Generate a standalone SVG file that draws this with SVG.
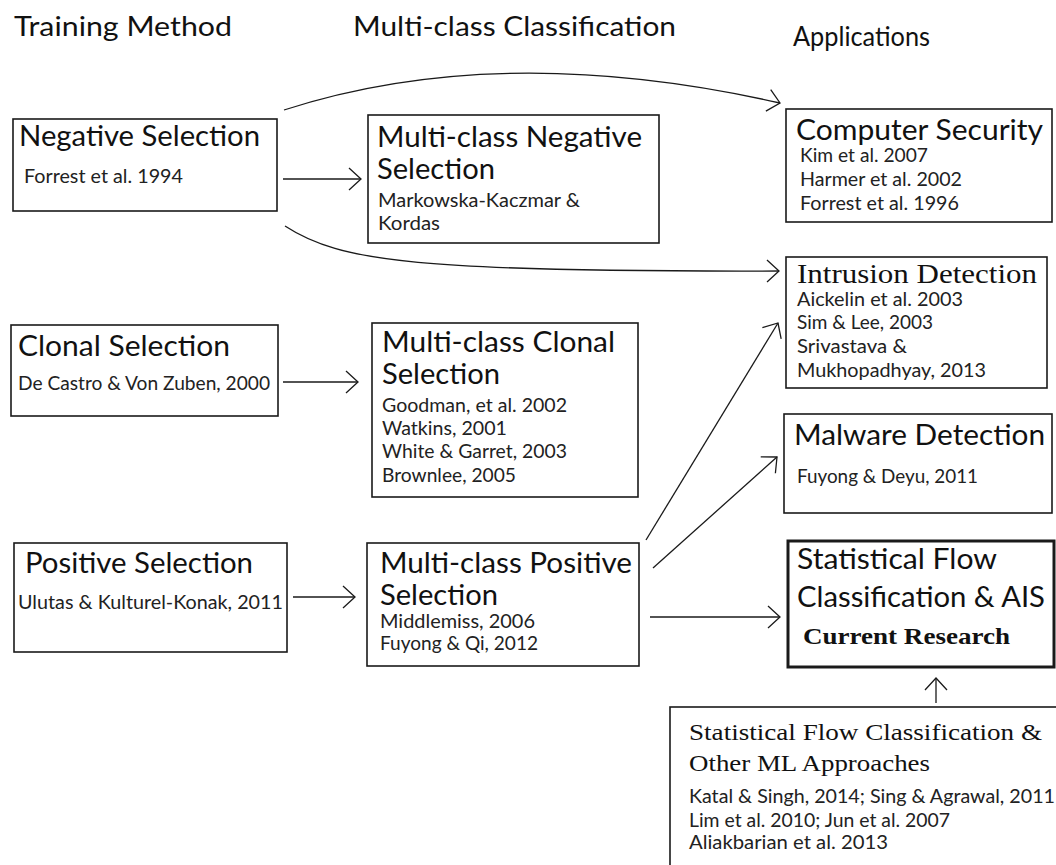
<svg xmlns="http://www.w3.org/2000/svg" width="1056" height="865" viewBox="0 0 1056 865">
<style>
.bg{fill:#fff}
.box{fill:#fff;stroke:#1a1a1a;stroke-width:1.6}
.thick{stroke-width:3}
.h{font-family:Lato,"Open Sans","Liberation Sans",sans-serif;font-size:27px;fill:#111}
.t{font-family:Lato,"Open Sans","Liberation Sans",sans-serif;font-size:28px;fill:#111}
.ts{font-family:"Liberation Serif","DejaVu Serif",serif;font-size:27px;fill:#111}
.tb{font-family:"Liberation Serif","DejaVu Serif",serif;font-size:24px;font-weight:bold;fill:#111}
.tsm{font-family:"Liberation Serif","DejaVu Serif",serif;font-size:24px;fill:#111}
.s{font-family:Lato,"Open Sans","Liberation Sans",sans-serif;font-size:18.5px;fill:#222}
.c{fill:none;stroke:#1a1a1a;stroke-width:1.3}
</style>
<defs>
<marker id="ah" markerUnits="userSpaceOnUse" markerWidth="16" markerHeight="26" refX="13" refY="12" orient="auto">
<path d="M1,1 L13,12 L1,23" fill="none" stroke="#1a1a1a" stroke-width="1.3"/>
</marker>
</defs>
<rect class="bg" x="0" y="0" width="1056" height="865"/>
<g id="headers">
<text class="h" x="14" y="36" textLength="218" lengthAdjust="spacingAndGlyphs">Training Method</text>
<text class="h" x="353" y="36" textLength="323" lengthAdjust="spacingAndGlyphs">Multi-class Classification</text>
<text class="h" x="793" y="46" textLength="137" lengthAdjust="spacingAndGlyphs">Applications</text>
</g>
<g id="connectors">
<path class="c" marker-end="url(#ah)" d="M283,179 L361,179"/>
<path class="c" marker-end="url(#ah)" d="M284,110 Q500,40 780,103"/>
<path class="c" marker-end="url(#ah)" d="M285,226 C340,262 420,272 779,271"/>
<path class="c" marker-end="url(#ah)" d="M283,382 L358,382"/>
<path class="c" marker-end="url(#ah)" d="M293,597 L355,597"/>
<path class="c" marker-end="url(#ah)" d="M646,540 L778,323"/>
<path class="c" marker-end="url(#ah)" d="M653,568 L777,457"/>
<path class="c" marker-end="url(#ah)" d="M650,617 L780,617"/>
<path class="c" marker-end="url(#ah)" d="M936,703 L936,678"/>
</g>
<g id="negative-selection">
<rect class="box" x="13" y="119" width="264" height="92"/>
<text class="t" x="19" y="146" textLength="241" lengthAdjust="spacingAndGlyphs">Negative Selection</text>
<text class="s" x="24" y="183" textLength="159" lengthAdjust="spacingAndGlyphs">Forrest et al. 1994</text>
</g>
<g id="multiclass-negative">
<rect class="box" x="368" y="115" width="291" height="128"/>
<text class="t" x="377" y="147" textLength="265" lengthAdjust="spacingAndGlyphs">Multi-class Negative</text>
<text class="t" x="377" y="179" textLength="118" lengthAdjust="spacingAndGlyphs">Selection</text>
<text class="s" x="378" y="207" textLength="202" lengthAdjust="spacingAndGlyphs">Markowska-Kaczmar &amp;</text>
<text class="s" x="378" y="230" textLength="62" lengthAdjust="spacingAndGlyphs">Kordas</text>
</g>
<g id="computer-security">
<rect class="box" x="786" y="109" width="266" height="113"/>
<text class="t" x="796" y="140" textLength="247" lengthAdjust="spacingAndGlyphs">Computer Security</text>
<text class="s" x="800" y="162" textLength="128" lengthAdjust="spacingAndGlyphs">Kim et al. 2007</text>
<text class="s" x="800" y="186" textLength="162" lengthAdjust="spacingAndGlyphs">Harmer et al. 2002</text>
<text class="s" x="800" y="210" textLength="159" lengthAdjust="spacingAndGlyphs">Forrest et al. 1996</text>
</g>
<g id="intrusion-detection">
<rect class="box" x="786" y="257" width="261" height="131"/>
<text class="ts" x="797" y="283" textLength="240" lengthAdjust="spacingAndGlyphs">Intrusion Detection</text>
<text class="s" x="797" y="306" textLength="166" lengthAdjust="spacingAndGlyphs">Aickelin et al. 2003</text>
<text class="s" x="797" y="329" textLength="136" lengthAdjust="spacingAndGlyphs">Sim &amp; Lee, 2003</text>
<text class="s" x="797" y="353" textLength="110" lengthAdjust="spacingAndGlyphs">Srivastava &amp;</text>
<text class="s" x="797" y="377" textLength="189" lengthAdjust="spacingAndGlyphs">Mukhopadhyay, 2013</text>
</g>
<g id="clonal-selection">
<rect class="box" x="11" y="325" width="267" height="91"/>
<text class="t" x="18" y="356" textLength="212" lengthAdjust="spacingAndGlyphs">Clonal Selection</text>
<text class="s" x="18" y="390" textLength="252" lengthAdjust="spacingAndGlyphs">De Castro &amp; Von Zuben, 2000</text>
</g>
<g id="multiclass-clonal">
<rect class="box" x="372" y="323" width="266" height="174"/>
<text class="t" x="382" y="352" textLength="233" lengthAdjust="spacingAndGlyphs">Multi-class Clonal</text>
<text class="t" x="382" y="384" textLength="118" lengthAdjust="spacingAndGlyphs">Selection</text>
<text class="s" x="382" y="412" textLength="185" lengthAdjust="spacingAndGlyphs">Goodman, et al. 2002</text>
<text class="s" x="382" y="435" textLength="125" lengthAdjust="spacingAndGlyphs">Watkins, 2001</text>
<text class="s" x="382" y="458" textLength="185" lengthAdjust="spacingAndGlyphs">White &amp; Garret, 2003</text>
<text class="s" x="382" y="482" textLength="134" lengthAdjust="spacingAndGlyphs">Brownlee, 2005</text>
</g>
<g id="malware-detection">
<rect class="box" x="784" y="414" width="268" height="99"/>
<text class="t" x="794" y="445" textLength="251" lengthAdjust="spacingAndGlyphs">Malware Detection</text>
<text class="s" x="797" y="483" textLength="181" lengthAdjust="spacingAndGlyphs">Fuyong &amp; Deyu, 2011</text>
</g>
<g id="positive-selection">
<rect class="box" x="14" y="543" width="273" height="109"/>
<text class="t" x="25" y="573" textLength="228" lengthAdjust="spacingAndGlyphs">Positive Selection</text>
<text class="s" x="18" y="609" textLength="265" lengthAdjust="spacingAndGlyphs">Ulutas &amp; Kulturel-Konak, 2011</text>
</g>
<g id="multiclass-positive">
<rect class="box" x="367" y="543" width="272" height="123"/>
<text class="t" x="380" y="573" textLength="252" lengthAdjust="spacingAndGlyphs">Multi-class Positive</text>
<text class="t" x="380" y="605" textLength="118" lengthAdjust="spacingAndGlyphs">Selection</text>
<text class="s" x="380" y="628" textLength="155" lengthAdjust="spacingAndGlyphs">Middlemiss, 2006</text>
<text class="s" x="380" y="650" textLength="158" lengthAdjust="spacingAndGlyphs">Fuyong &amp; Qi, 2012</text>
</g>
<g id="statistical-flow-ais">
<rect class="box thick" x="788" y="541" width="266" height="126"/>
<text class="t" x="797" y="569" textLength="200" lengthAdjust="spacingAndGlyphs">Statistical Flow</text>
<text class="t" x="797" y="607" textLength="248" lengthAdjust="spacingAndGlyphs">Classification &amp; AIS</text>
<text class="tb" x="803" y="644" textLength="207" lengthAdjust="spacingAndGlyphs">Current Research</text>
</g>
<g id="statistical-flow-ml">
<rect class="box" x="670" y="707" width="400" height="170"/>
<text class="tsm" x="689" y="740" textLength="353" lengthAdjust="spacingAndGlyphs">Statistical Flow Classification &amp;</text>
<text class="tsm" x="689" y="771" textLength="241" lengthAdjust="spacingAndGlyphs">Other ML Approaches</text>
<text class="s" x="689" y="803" textLength="366" lengthAdjust="spacingAndGlyphs">Katal &amp; Singh, 2014; Sing &amp; Agrawal, 2011</text>
<text class="s" x="689" y="827" textLength="261" lengthAdjust="spacingAndGlyphs">Lim et al. 2010; Jun et al. 2007</text>
<text class="s" x="689" y="849" textLength="199" lengthAdjust="spacingAndGlyphs">Aliakbarian et al. 2013</text>
</g>
</svg>
